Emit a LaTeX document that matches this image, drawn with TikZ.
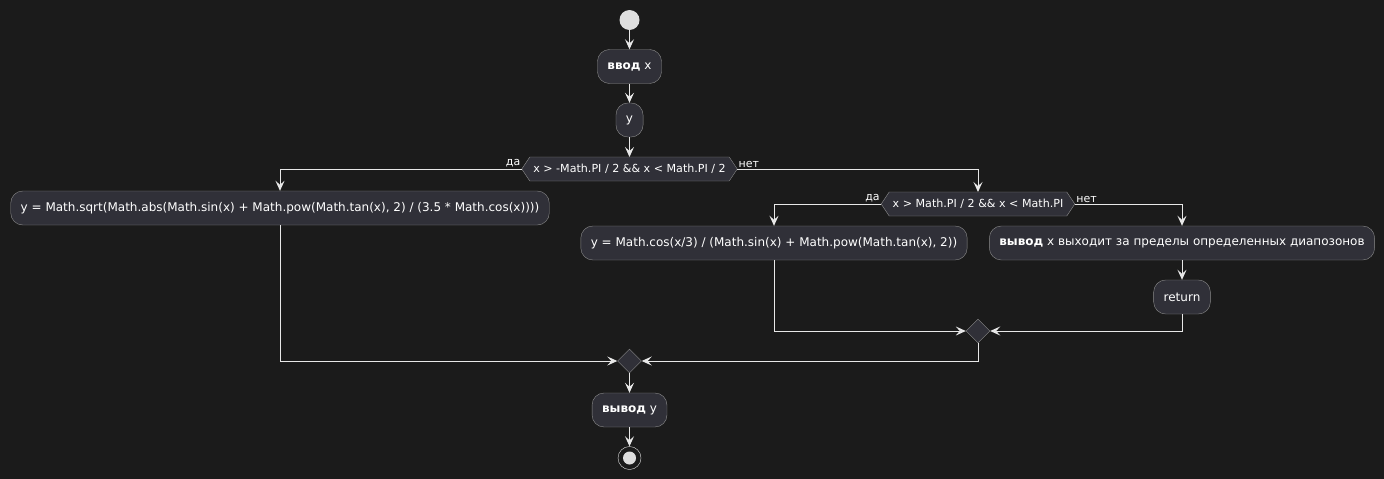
\documentclass[tikz,border=0pt]{standalone}
\usepackage{fontspec}
\setmainfont{DejaVu Sans}
\usetikzlibrary{arrows.meta, shapes.geometric, backgrounds, positioning}
\definecolor{bgc}{RGB}{27,27,27}
\definecolor{boxc}{RGB}{48,48,56}
\definecolor{edgec}{RGB}{140,140,140}
\definecolor{linec}{RGB}{232,232,232}
\definecolor{dotc}{RGB}{222,222,222}
\tikzset{
  action/.style={rectangle, rounded corners=12pt, draw=edgec, fill=boxc, text=white,
    minimum height=34pt, inner xsep=10pt, font=\fontsize{12}{14}\selectfont},
  choice/.style={rectangle, text=white, minimum height=24pt, inner xsep=11.5pt, inner ysep=2pt,
    outer sep=0pt, font=\fontsize{11.1}{13}\selectfont},
  hexline/.style={draw=edgec, fill=boxc},
  merge/.style={diamond, draw=edgec, fill=boxc, minimum size=24pt, inner sep=0pt},
  startdot/.style={circle, fill=dotc, minimum size=20pt, inner sep=0pt},
  stopdot/.style={circle, draw=dotc, fill=bgc, minimum size=23pt, inner sep=0pt,
    path picture={\fill[dotc] (path picture bounding box.center) circle (6.5pt);}},
  flow/.style={draw=linec, line width=1pt, -{Stealth[length=10pt, width=9pt, inset=4pt]}},
  branch/.style={text=white, font=\fontsize{11}{13}\selectfont, inner sep=1pt},
}
\begin{document}
\begin{tikzpicture}[x=1pt, y=-1pt]
	% nodes
	\node[startdot] (begin) at (629.5,20) {};
	\node[action] (input) at (629.5,66.5) {\textbf{ввод} x};
	\node[action] (ycalc) at (629.5,120) {y};
	\node[choice] (range1) at (629.5,169) {x > -Math.PI / 2 \&\& x < Math.PI / 2};
	\node[action] (sqrtbox) at (280,208) {y = Math.sqrt(Math.abs(Math.sin(x) + Math.pow(Math.tan(x), 2) / (3.5 * Math.cos(x))))};
	\node[choice] (range2) at (978,204) {x > Math.PI / 2 \&\& x < Math.PI};
	\node[action] (cosbox) at (774,243) {y = Math.cos(x/3) / (Math.sin(x) + Math.pow(Math.tan(x), 2))};
	\node[action] (outrange) at (1182,243) {\textbf{вывод} x выходит за пределы определенных диапозонов};
	\node[action] (ret) at (1182,297) {return};
	\node[merge] (join2) at (978,331) {};
	\node[merge] (join1) at (629.5,361) {};
	\node[action] (result) at (629.5,410) {\textbf{вывод} y};
	\node[stopdot] (finish) at (629.5,458) {};
	% background, page size and decision outlines
	\begin{scope}[on background layer]
		\fill[bgc] (0,0) rectangle (1384,479);
		\foreach \d in {range1, range2}
			\filldraw[hexline] (\d.west) -- ([xshift=8pt]\d.north west) -- ([xshift=-8pt]\d.north east)
				-- (\d.east) -- ([xshift=-8pt]\d.south east) -- ([xshift=8pt]\d.south west) -- cycle;
	\end{scope}
	\useasboundingbox (0,0) rectangle (1384,479);
	% connectors
	\draw[flow] (begin) -- (input);
	\draw[flow] (input) -- (ycalc);
	\draw[flow] (ycalc) -- (range1);
	\draw[flow] (range1.west) -| node[branch, pos=0, anchor=south east] (yes1) {да} (sqrtbox.north);
	\draw[flow] (range1.east) -| node[branch, pos=0, anchor=south west] (no1) {нет} (range2.north);
	\draw[flow] (range2.west) -| node[branch, pos=0, anchor=south east] (yes2) {да} (cosbox.north);
	\draw[flow] (range2.east) -| node[branch, pos=0, anchor=south west] (no2) {нет} (outrange.north);
	\draw[flow] (outrange) -- (ret);
	\draw[flow] (cosbox.south) |- (join2.west);
	\draw[flow] (ret.south) |- (join2.east);
	\draw[flow] (sqrtbox.south) |- (join1.west);
	\draw[flow] (join2.south) |- (join1.east);
	\draw[flow] (join1) -- (result);
	\draw[flow] (result) -- (finish);
\end{tikzpicture}
\end{document}
